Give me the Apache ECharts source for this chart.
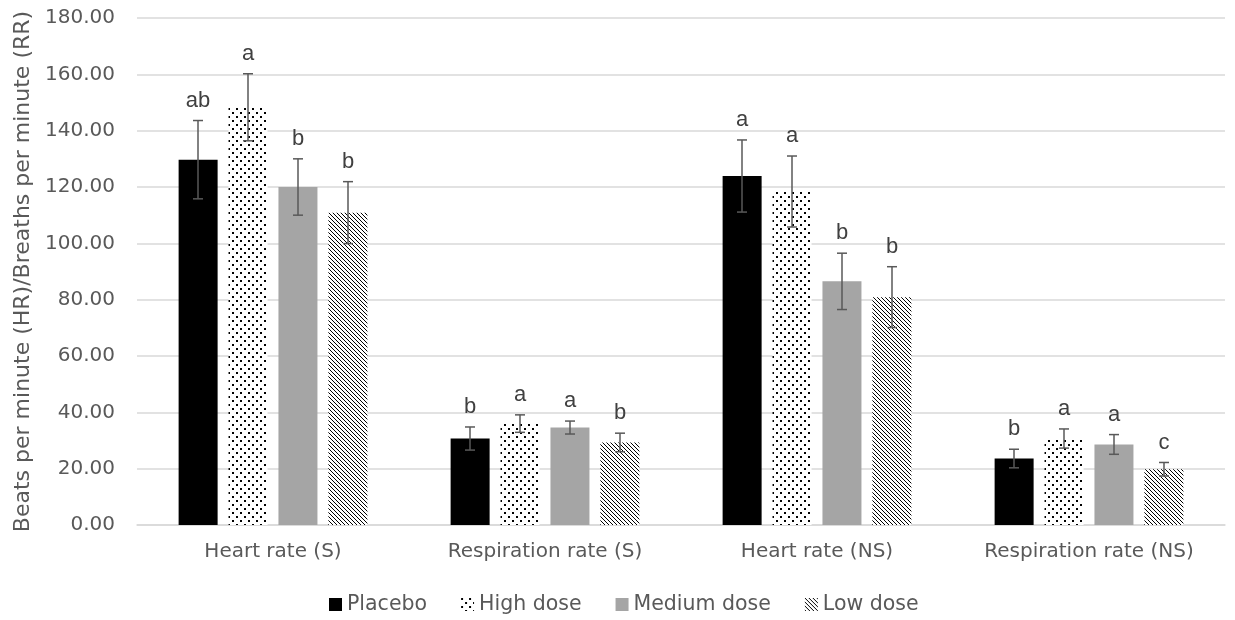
<!DOCTYPE html>
<html>
<head>
<meta charset="utf-8">
<script src="https://cdn.jsdelivr.net/npm/echarts@6/dist/echarts.min.js"></script>
<style>
  html, body { margin: 0; padding: 0; background: #fff; }
  #main { width: 1235px; height: 620px; }
</style>
</head>
<body>
<div id="main"></div>
<script>
// data
var categories = ['Heart rate (S)', 'Respiration rate (S)', 'Heart rate (NS)', 'Respiration rate (NS)'];
var seriesNames = ['Placebo', 'High dose', 'Medium dose', 'Low dose'];

var placebo = [129.7, 30.7, 123.9, 23.6];
var highDose = [148.3, 36.0, 118.4, 30.7];
var mediumDose = [120.0, 34.6, 86.5, 28.6];
var lowDose = [110.9, 29.3, 80.9, 19.8];

var placeboErr = [13.9, 4.1, 12.8, 3.3];
var highDoseErr = [11.9, 3.1, 12.6, 3.4];
var mediumDoseErr = [10.0, 2.3, 10.0, 3.5];
var lowDoseErr = [11.0, 3.3, 10.8, 2.4];

var placeboLetters = ['ab', 'b', 'a', 'b'];
var highDoseLetters = ['a', 'a', 'a', 'a'];
var mediumDoseLetters = ['b', 'a', 'b', 'a'];
var lowDoseLetters = ['b', 'b', 'b', 'c'];

var yTicks = { min: 0, max: 180, interval: 20 };

// fill patterns
function dotPattern() {
  var c = document.createElement('canvas');
  c.width = 8; c.height = 8;
  var ctx = c.getContext('2d');
  ctx.fillStyle = '#fff';
  ctx.fillRect(0, 0, 8, 8);
  ctx.fillStyle = '#000';
  ctx.fillRect(0, 0, 2, 2);
  ctx.fillRect(4, 4, 2, 2);
  return c;
}
function diagPattern() {
  // "\" hatch, 4px period
  var c = document.createElement('canvas');
  c.width = 8; c.height = 8;
  var ctx = c.getContext('2d');
  ctx.fillStyle = '#fff';
  ctx.fillRect(0, 0, 8, 8);
  ctx.fillStyle = '#000';
  for (var i = 0; i < 8; i++) {
    ctx.fillRect(i % 4, i, 1, 1);
    ctx.fillRect(i % 4 + 4, i, 1, 1);
  }
  return c;
}

var colors = [
  '#000000',
  { image: dotPattern(), repeat: 'repeat' },
  '#a5a5a5',
  { image: diagPattern(), repeat: 'repeat' }
];

var values = [placebo, highDose, mediumDose, lowDose];
var errs = [placeboErr, highDoseErr, mediumDoseErr, lowDoseErr];
var letters = [placeboLetters, highDoseLetters, mediumDoseLetters, lowDoseLetters];

var barWidth = 39;
var barStep = 50;
var fontFam = '"DejaVu Sans", sans-serif';
var letterFont = '22px "Liberation Sans", Arial, sans-serif';

var myChart = echarts.init(document.getElementById('main'));

var series = [];
for (var s = 0; s < 4; s++) {
  series.push({
    name: seriesNames[s],
    type: 'bar',
    barWidth: barWidth,
    barGap: '28%',
    itemStyle: { color: colors[s], borderWidth: 0 },
    data: values[s]
  });
}

// error bars + significance letters
for (var s2 = 0; s2 < 4; s2++) {
  (function (k) {
    var d = [];
    for (var i = 0; i < categories.length; i++) {
      d.push([i, values[k][i], errs[k][i]]);
    }
    series.push({
      type: 'custom',
      name: seriesNames[k] + ' err',
      silent: true,
      z: 10,
      data: d,
      renderItem: function (params, api) {
        var x = api.coord([api.value(0), 0])[0] + (k - 1.5) * barStep;
        var v = api.value(1), e = api.value(2);
        var yTop = api.coord([0, v + e])[1];
        var yBot = api.coord([0, v - e])[1];
        var cap = 5;
        var st = { stroke: '#595959', lineWidth: 1.5 };
        return {
          type: 'group',
          children: [
            { type: 'line', shape: { x1: x, y1: yTop, x2: x, y2: yBot }, style: st },
            { type: 'line', shape: { x1: x - cap, y1: yTop, x2: x + cap, y2: yTop }, style: st },
            { type: 'line', shape: { x1: x - cap, y1: yBot, x2: x + cap, y2: yBot }, style: st },
            {
              type: 'text',
              style: {
                x: x, y: yTop - 9,
                text: letters[k][params.dataIndex],
                fill: '#404040',
                font: letterFont,
                align: 'center',
                verticalAlign: 'bottom'
              }
            }
          ]
        };
      }
    });
  })(s2);
}

var option = {
  animation: false,
  textStyle: { fontFamily: fontFam },
  grid: { left: 137, right: 10, top: 18, bottom: 95, containLabel: false },
  legend: {
    data: seriesNames,
    bottom: 0,
    left: 324,
    itemWidth: 13,
    itemHeight: 13,
    itemGap: 34,
    icon: 'rect',
    textStyle: { color: '#595959', fontSize: 20.5, fontFamily: fontFam }
  },
  xAxis: {
    type: 'category',
    data: categories,
    axisLine: { lineStyle: { color: '#d9d9d9', width: 1.5 } },
    axisTick: { show: false },
    axisLabel: { color: '#595959', fontSize: 20, margin: 17, interval: 0, fontFamily: fontFam }
  },
  yAxis: {
    type: 'value',
    min: yTicks.min,
    max: yTicks.max,
    interval: yTicks.interval,
    name: 'Beats per minute (HR)/Breaths per minute (RR)',
    nameLocation: 'middle',
    nameGap: 102,
    nameTextStyle: { color: '#595959', fontSize: 22, fontFamily: fontFam },
    axisLine: { show: false },
    axisTick: { show: false },
    splitLine: { lineStyle: { color: '#d9d9d9', width: 1.5 } },
    axisLabel: {
      color: '#595959',
      fontSize: 20,
      margin: 22,
      fontFamily: fontFam,
      formatter: function (v) { return v.toFixed(2); }
    }
  },
  series: series
};

myChart.setOption(option);
</script>
</body>
</html>
